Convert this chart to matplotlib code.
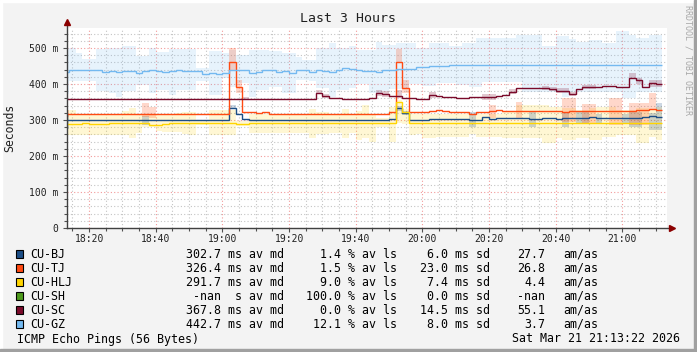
import numpy as np
import matplotlib
matplotlib.use('Agg')
import matplotlib.pyplot as plt
from matplotlib.patches import Rectangle
from matplotlib.ticker import MultipleLocator, FuncFormatter

plt.rcParams['font.family'] = 'DejaVu Sans Mono'

# time axis: minutes after 18:00, one value per 2 minute step (18:12 .. 21:12)
edges = np.arange(12, 193, 2)

# median rtt in ms
bj_med = [
    299, 299, 299, 299, 299, 299, 299, 299, 299, 299,
    299, 299, 299, 299, 301, 299, 299, 299, 299, 299,
    299, 299, 299, 299, 299, 332, 316, 303, 299, 299,
    299, 299, 299, 299, 299, 299, 299, 299, 299, 299,
    299, 299, 299, 299, 299, 299, 299, 299, 299, 302,
    332, 319, 299, 301, 301, 302, 302, 302, 304, 302,
    302, 301, 301, 307, 303, 305, 305, 305, 305, 305,
    302, 302, 305, 305, 302, 305, 305, 305, 305, 307,
    305, 305, 305, 305, 305, 305, 305, 309, 311, 308,
]
tj_med = [
    318, 318, 318, 318, 318, 318, 318, 318, 318, 318,
    318, 318, 318, 318, 318, 318, 318, 318, 318, 318,
    318, 318, 318, 318, 318, 462, 391, 322, 322, 319,
    322, 318, 318, 318, 318, 318, 318, 318, 318, 318,
    318, 318, 318, 318, 318, 318, 318, 318, 318, 322,
    460, 390, 321, 321, 323, 324, 327, 325, 322, 321,
    321, 318, 322, 323, 324, 327, 326, 325, 325, 325,
    325, 325, 325, 325, 325, 321, 325, 325, 325, 325,
    325, 325, 325, 325, 325, 324, 328, 328, 330, 328,
]
hlj_med = [
    289, 289, 289, 292, 289, 289, 289, 292, 292, 292,
    292, 292, 292, 286, 286, 289, 292, 292, 292, 292,
    292, 292, 292, 292, 292, 292, 288, 288, 292, 292,
    292, 292, 292, 292, 292, 292, 292, 292, 292, 292,
    292, 292, 292, 292, 292, 292, 292, 292, 292, 292,
    351, 323, 291, 291, 291, 291, 291, 291, 291, 291,
    291, 291, 291, 291, 291, 291, 291, 291, 291, 291,
    291, 291, 291, 291, 291, 291, 291, 291, 291, 291,
    291, 291, 291, 291, 291, 291, 291, 291, 291, 291,
]
sc_med = [
    358, 358, 358, 358, 358, 358, 358, 358, 358, 358,
    358, 358, 358, 358, 358, 358, 358, 358, 358, 358,
    358, 358, 358, 358, 358, 358, 358, 358, 358, 358,
    358, 358, 358, 358, 358, 358, 358, 358, 374, 367,
    362, 361, 358, 359, 359, 359, 362, 374, 371, 367,
    366, 360, 360, 358, 358, 369, 366, 363, 365, 362,
    362, 365, 365, 364, 364, 367, 369, 379, 390, 390,
    390, 390, 390, 386, 381, 381, 372, 387, 392, 391,
    391, 394, 394, 391, 391, 418, 411, 392, 402, 399,
]
gz_med = [
    434, 440, 440, 438, 438, 438, 432, 435, 433, 435,
    435, 430, 436, 438, 436, 433, 436, 438, 435, 435,
    435, 428, 431, 427, 430, 438, 438, 438, 431, 434,
    438, 438, 434, 436, 430, 438, 438, 433, 439, 437,
    434, 440, 445, 442, 440, 437, 435, 432, 440, 440,
    441, 443, 443, 446, 446, 449, 449, 449, 452, 452,
    452, 452, 452, 452, 452, 452, 452, 452, 452, 452,
    452, 452, 452, 452, 452, 452, 452, 452, 452, 452,
    452, 452, 452, 452, 452, 452, 452, 452, 452, 452,
]

# smoke (min / max of the pings) for the wide bands
gz_hi = [
    501, 501, 485, 470, 470, 496, 496, 501, 501, 506,
    506, 478, 478, 501, 488, 488, 498, 498, 498, 498,
    444, 444, 491, 491, 485, 494, 480, 480, 494, 494,
    494, 491, 491, 485, 485, 476, 466, 466, 499, 499,
    515, 499, 499, 505, 494, 494, 494, 516, 508, 508,
    513, 513, 513, 499, 499, 513, 513, 513, 505, 505,
    513, 513, 528, 528, 528, 528, 528, 528, 536, 536,
    536, 536, 506, 506, 533, 533, 525, 518, 518, 521,
    521, 515, 515, 547, 547, 536, 528, 528, 536, 536,
]
gz_lo = [
    372, 407, 407, 407, 407, 380, 380, 375, 365, 380,
    380, 398, 398, 375, 384, 384, 370, 384, 384, 384,
    407, 407, 370, 370, 416, 393, 402, 402, 365, 384,
    384, 393, 393, 375, 375, 411, 411, 407, 389, 389,
    365, 384, 384, 390, 400, 400, 375, 375, 380, 385,
    385, 385, 400, 400, 395, 395, 402, 402, 402, 398,
    398, 392, 392, 406, 406, 406, 406, 406, 406, 378,
    378, 378, 378, 378, 378, 365, 379, 379, 379, 379,
    379, 379, 379, 379, 360, 360, 379, 379, 379, 379,
]
hlj_hi = [
    328, 328, 318, 318, 318, 318, 318, 318, 318, 325,
    334, 318, 318, 318, 318, 318, 318, 320, 323, 323,
    296, 296, 328, 328, 328, 328, 296, 296, 318, 318,
    318, 318, 318, 318, 318, 318, 318, 331, 322, 322,
    318, 318, 331, 318, 325, 341, 318, 305, 305, 336,
    356, 330, 318, 318, 318, 318, 318, 318, 318, 318,
    318, 318, 318, 318, 318, 318, 325, 325, 341, 341,
    341, 341, 341, 336, 336, 332, 332, 327, 327, 332,
    336, 336, 336, 327, 327, 327, 332, 332, 327, 336,
]
hlj_lo = [
    258, 258, 258, 258, 258, 258, 258, 258, 258, 258,
    249, 265, 280, 280, 270, 267, 267, 267, 260, 258,
    286, 286, 258, 258, 258, 258, 282, 282, 265, 265,
    265, 265, 265, 265, 265, 265, 265, 250, 262, 262,
    265, 265, 250, 265, 245, 250, 240, 281, 281, 240,
    291, 290, 258, 260, 250, 250, 253, 253, 253, 253,
    253, 260, 253, 253, 253, 253, 250, 250, 250, 250,
    250, 250, 236, 236, 250, 245, 245, 250, 250, 245,
    245, 254, 254, 258, 258, 258, 236, 236, 254, 245,
]
# narrow smoke: only the steps where it shows (minute: (min, max))
bj_smoke = {12: (276, 318), 36: (286, 311), 62: (330, 341), 112: (326, 340),
            114: (315, 325), 134: (281, 321), 152: (281, 321), 162: (281, 321),
            166: (290, 321), 168: (290, 321), 172: (290, 318), 180: (290, 318),
            182: (281, 321), 184: (281, 321), 188: (272, 319), 190: (272, 346)}
tj_smoke = {12: (309, 328), 36: (309, 346), 38: (305, 335), 62: (439, 499),
            64: (375, 412), 112: (462, 497), 114: (374, 411), 140: (305, 341),
            148: (305, 349), 162: (295, 360), 164: (295, 360), 168: (289, 344),
            170: (289, 344), 176: (286, 360), 178: (286, 360), 182: (286, 346),
            184: (286, 346), 186: (286, 346), 188: (328, 374)}
sc_smoke = {66: (356, 365), 88: (372, 383), 90: (362, 372), 106: (368, 383),
            108: (365, 380), 112: (360, 383), 122: (362, 378), 138: (356, 371),
            140: (356, 371), 146: (372, 385), 156: (383, 395), 158: (380, 392),
            160: (375, 390), 162: (375, 390), 164: (368, 378), 168: (385, 396),
            170: (385, 396), 182: (416, 430), 184: (399, 416), 188: (392, 411),
            190: (392, 411)}

names = ['CU-BJ', 'CU-TJ', 'CU-HLJ', 'CU-SH', 'CU-SC', 'CU-GZ']
colors = ['#1c4e86', '#ff4a12', '#ffd500', '#4d9a1c', '#7a0a2a', '#74b9f0']
med_txt = ['302.7 ms', '326.4 ms', '291.7 ms', '-nan  s', '367.8 ms', '442.7 ms']
loss = [1.4, 1.5, 9.0, 100.0, 0.0, 12.1]
sdev = [6.0, 23.0, 7.4, 0.0, 14.5, 8.0]
amas = ['27.7', '26.8', '4.4', '-nan', '55.1', '3.7']


def band(med, patches):
    lo = np.array(med, float)
    hi = lo.copy()
    for m, (a, b) in patches.items():
        i = (m - 12) // 2
        lo[i], hi[i] = a, b
    return lo, hi


W, H = 697, 352
fig = plt.figure(figsize=(W / 100, H / 100), dpi=100, facecolor='#f3f3f3')
ax = fig.add_axes([67 / W, 124 / H, 600 / W, 200 / H])
ax.set_facecolor('white')
start = 13 + 22 / 60  # 18:13:22
ax.set_xlim(start, start + 180)
ax.set_ylim(0, 200 / 0.36)

# smoke
ax.stairs(gz_hi, edges, baseline=gz_lo, fill=True, color=colors[5], alpha=0.17, lw=0)
ax.stairs(hlj_hi, edges, baseline=hlj_lo, fill=True, color=colors[2], alpha=0.17, lw=0)
for med, sm, c, a in [(bj_med, bj_smoke, colors[0], 0.22),
                      (tj_med, tj_smoke, colors[1], 0.22),
                      (sc_med, sc_smoke, colors[4], 0.22)]:
    lo, hi = band(med, sm)
    ax.stairs(hi, edges, baseline=lo, fill=True, color=c, alpha=a, lw=0)

# medians
for med, c in [(bj_med, colors[0]), (tj_med, colors[1]), (hlj_med, colors[2]),
               (sc_med, colors[4]), (gz_med, colors[5])]:
    ax.stairs(med, edges, baseline=None, color=c, lw=1.0)

# grid / ticks
ax.xaxis.set_major_locator(MultipleLocator(20))
ax.xaxis.set_minor_locator(MultipleLocator(5))
ax.yaxis.set_major_locator(MultipleLocator(100))
ax.yaxis.set_minor_locator(MultipleLocator(20))
ax.xaxis.set_major_formatter(FuncFormatter(lambda m, p: '%d:%02d' % (18 + int(m) // 60, int(m) % 60)))
ax.yaxis.set_major_formatter(FuncFormatter(lambda v, p: '0' if v == 0 else '%d m' % v))
ax.set_axisbelow(True)
ax.grid(which='minor', color='#c4c4c4', linestyle=(0, (1, 2)), lw=0.8)
ax.grid(which='major', color='#f29a9a', linestyle=(0, (1, 2)), lw=0.8)
ax.tick_params(which='both', direction='out', color='#505050', labelsize=7,
               labelcolor='#202020', width=0.8)
ax.tick_params(which='major', length=3)
ax.tick_params(which='minor', length=2)
ax.tick_params(axis='x', pad=1.5)
ax.tick_params(axis='y', pad=3.5)
for s in ax.spines.values():
    s.set_visible(False)

# axes with arrows
ax.plot([0, 1.006], [0, 0], transform=ax.transAxes, color='#404040', lw=1, clip_on=False)
ax.plot([0, 0], [0, 1.03], transform=ax.transAxes, color='#404040', lw=1, clip_on=False)
ax.plot(1.008, 0, marker='>', ms=4, color='#8b0000', transform=ax.transAxes, clip_on=False)
ax.plot(0, 1.03, marker='^', ms=4, color='#8b0000', transform=ax.transAxes, clip_on=False)

# texts
fig.text(0.5, 1 - 19 / H, 'Last 3 Hours', ha='center', va='center', fontsize=9.5, color='#202020')
fig.text(10 / W, 1 - 128 / H, 'Seconds', rotation=90, ha='center', va='center',
         fontsize=8.3, color='#202020')
fig.text(688 / W, 1 - 5 / H, 'RRDTOOL / TOBI OETIKER', rotation=270, ha='center',
         va='top', fontsize=6, color='#a8a8a8')

fs = 8.4
for i, name in enumerate(names):
    y = 1 - (254 + 14 * i) / H
    fig.patches.append(Rectangle((15.5 / W, y - 4.2 / H), 7.5 / W, 8.4 / H,
                                 facecolor=colors[i], edgecolor='black', lw=0.8,
                                 transform=fig.transFigure))
    fig.text(30 / W, y, name, ha='left', va='center', fontsize=fs)
    fig.text(283.6 / W, y, med_txt[i] + ' av md', ha='right', va='center', fontsize=fs)
    fig.text(397 / W, y, '%.1f %% av ls' % loss[i], ha='right', va='center', fontsize=fs)
    fig.text(490 / W, y, '%.1f ms sd' % sdev[i], ha='right', va='center', fontsize=fs)
    fig.text(545 / W, y, amas[i], ha='right', va='center', fontsize=fs)
    fig.text(563.6 / W, y, 'am/as', ha='left', va='center', fontsize=fs)

fig.text(17 / W, 1 - 339 / H, 'ICMP Echo Pings (56 Bytes)', ha='left', va='center', fontsize=fs)
fig.text(680 / W, 1 - 339 / H, 'Sat Mar 21 21:13:22 2026', ha='right', va='center', fontsize=fs)

# 3d-ish frame
fig.patches.append(Rectangle((0, 1 - 2 / H), 1, 2 / H, color='white', transform=fig.transFigure))
fig.patches.append(Rectangle((0, 0), 2 / W, 1, color='white', transform=fig.transFigure))
fig.patches.append(Rectangle((694 / W, 0), 3 / W, 1, color='#a0a0a0', transform=fig.transFigure))
fig.patches.append(Rectangle((0, 0), 1, 3 / H, color='#a0a0a0', transform=fig.transFigure))

fig.savefig('out.png', dpi=100, facecolor=fig.get_facecolor())
